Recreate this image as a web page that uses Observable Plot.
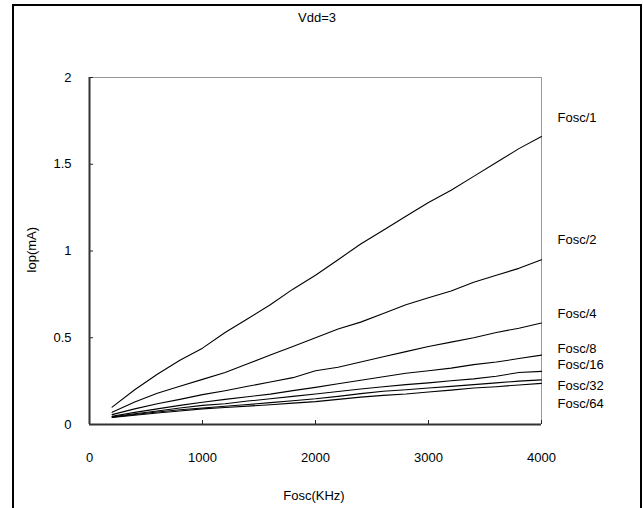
<!DOCTYPE html>
<html>
<head>
<meta charset="utf-8">
<script src="https://cdn.jsdelivr.net/npm/d3@7"></script>
<script src="https://cdn.jsdelivr.net/npm/@observablehq/plot@0.6"></script>
<style>
  html, body { margin: 0; padding: 0; background: #fff; }
  #chart { position: relative; width: 643px; height: 508px; overflow: hidden; }
</style>
</head>
<body>
<div id="chart"></div>
<script>
// ---- data ----
const freqs = [200,400,600,800,1000,1200,1400,1600,1800,2000,2200,2400,2600,2800,3000,3200,3400,3600,3800,4000];
const seriesNames = ["Fosc/1","Fosc/2","Fosc/4","Fosc/8","Fosc/16","Fosc/32","Fosc/64"];
const fosc1  = [0.10,0.20,0.29,0.37,0.44,0.53,0.61,0.69,0.78,0.86,0.95,1.04,1.12,1.20,1.28,1.35,1.43,1.51,1.59,1.66];
const fosc2  = [0.07,0.13,0.18,0.22,0.26,0.30,0.35,0.40,0.45,0.50,0.55,0.59,0.64,0.69,0.73,0.77,0.82,0.86,0.90,0.95];
const fosc4  = [0.057,0.09,0.12,0.145,0.172,0.195,0.22,0.245,0.27,0.31,0.33,0.36,0.39,0.42,0.45,0.475,0.50,0.53,0.555,0.585];
const fosc8  = [0.048,0.07,0.09,0.11,0.128,0.145,0.16,0.175,0.195,0.214,0.235,0.255,0.275,0.295,0.31,0.325,0.345,0.36,0.38,0.40];
const fosc16 = [0.045,0.062,0.078,0.095,0.11,0.12,0.135,0.148,0.162,0.176,0.19,0.205,0.218,0.23,0.24,0.252,0.263,0.278,0.30,0.306];
const fosc32 = [0.042,0.058,0.072,0.085,0.095,0.105,0.115,0.126,0.137,0.148,0.162,0.178,0.192,0.20,0.21,0.22,0.23,0.24,0.25,0.257];
const fosc64 = [0.040,0.053,0.066,0.078,0.09,0.098,0.106,0.114,0.123,0.132,0.145,0.158,0.168,0.176,0.187,0.198,0.21,0.218,0.228,0.237];
const labelLevels = [1.77,1.063,0.64,0.437,0.345,0.224,0.121];
const xTicks = [0,1000,2000,3000,4000];
const yTicks = [0,0.5,1,1.5,2];
const yTickLabels = ["0","0.5","1","1.5","2"];
const titleText = "Vdd=3";
const xLabel = "Fosc(KHz)";
const yLabel = "Iop(mA)";

const allSeries = [fosc1,fosc2,fosc4,fosc8,fosc16,fosc32,fosc64];
const rows = [];
allSeries.forEach((vals, i) => vals.forEach((v, j) => rows.push({series: seriesNames[i], f: freqs[j], v})));
const labels = seriesNames.map((s, i) => ({series: s, level: labelLevels[i], f: 4000}));

const FONT = "'Liberation Sans', Arial, sans-serif";
const FS = 13;

const plot = Plot.plot({
  width: 643,
  height: 508,
  marginLeft: 89,
  marginRight: 102,
  marginTop: 77,
  marginBottom: 84,
  style: {fontFamily: FONT, fontSize: FS + "px", color: "#000", background: "#fff", overflow: "visible"},
  x: {domain: [0, 4000]},
  y: {domain: [0, 2]},
  marks: [
    Plot.ruleY([2], {stroke: "#999", strokeWidth: 1}),
    Plot.ruleX([4000], {stroke: "#999", strokeWidth: 1}),
    Plot.axisX({ticks: xTicks, tickSize: -4, tickFormat: () => "", label: null, stroke: "#222"}),
    Plot.axisY({ticks: yTicks, tickSize: -4, tickFormat: () => "", label: null, stroke: "#222"}),
    Plot.axisX({ticks: xTicks, tickSize: 0, tickPadding: 28, tickFormat: d => String(d), label: null, fill: "#000", fontSize: FS}),
    Plot.axisY({ticks: yTicks, tickSize: 0, tickPadding: 18, tickFormat: d => yTickLabels[yTicks.indexOf(d)], label: null, fill: "#000", fontSize: FS}),
    Plot.ruleX([0], {stroke: "#333", strokeWidth: 2}),
    Plot.ruleY([0], {stroke: "#333", strokeWidth: 2}),
    Plot.line(rows, {x: "f", y: "v", z: "series", stroke: "#000", strokeWidth: 1.1}),
    Plot.text(labels, {x: "f", y: "level", text: "series", textAnchor: "start", dx: 16, fill: "#000", fontSize: FS})
  ]
});

const svg = d3.select(plot);
// outer frame
svg.insert("rect", ":first-child")
  .attr("x", 13).attr("y", 5).attr("width", 628).attr("height", 540)
  .attr("fill", "none").attr("stroke", "#000").attr("stroke-width", 2);
// title
svg.append("text").attr("x", 317).attr("y", 22).attr("text-anchor", "middle")
  .attr("font-family", FONT).attr("font-size", FS).attr("fill", "#000").text(titleText);
// x label
svg.append("text").attr("x", 314).attr("y", 500).attr("text-anchor", "middle")
  .attr("font-family", FONT).attr("font-size", FS).attr("fill", "#000").text(xLabel);
// y label
svg.append("text").attr("transform", "translate(36,250) rotate(-90)").attr("text-anchor", "middle")
  .attr("font-family", FONT).attr("font-size", FS).attr("fill", "#000").text(yLabel);

document.getElementById("chart").appendChild(plot);
</script>
</body>
</html>
